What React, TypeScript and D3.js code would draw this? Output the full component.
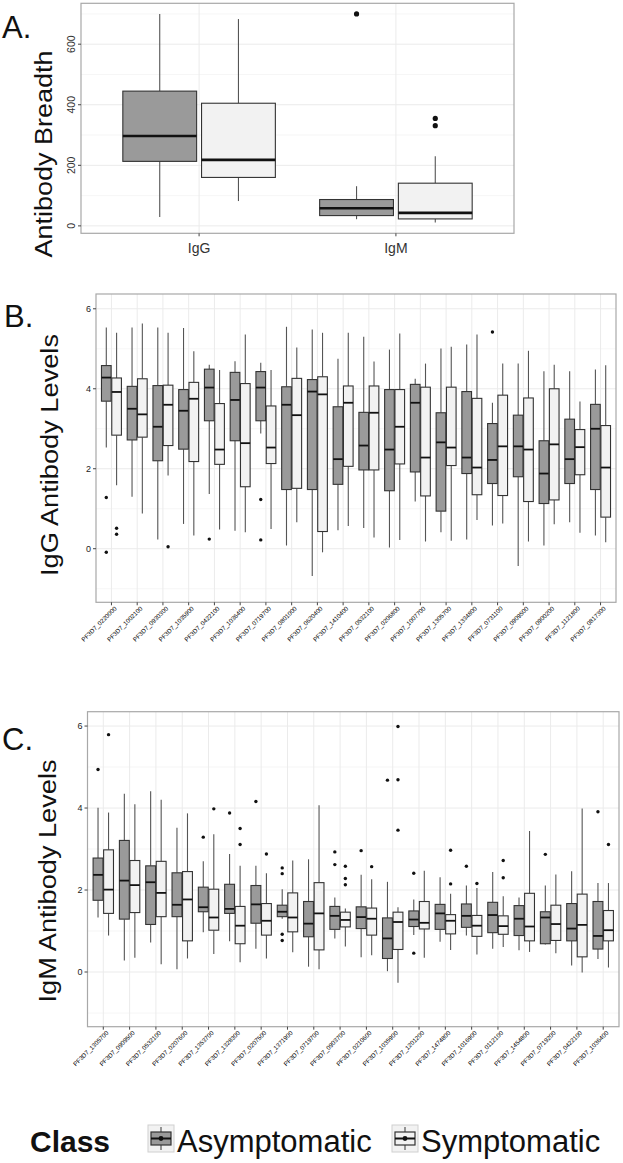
import React from "react";
import * as d3 from "d3";

const FONT = "'Liberation Sans', Arial, Helvetica, sans-serif";
const ASYM_FILL = "#9a9a9a";
const SYM_FILL = "#f2f2f2";

// ---------- Panel A: antibody breadth ----------
const breadthCategories = ["IgG", "IgM"];
// [lower whisker, Q1, median, Q3, upper whisker]
const breadthAsym = [
  [29, 213, 297, 445, 700],
  [22, 34, 58, 87, 131],
];
const breadthSym = [
  [82, 160, 218, 405, 683],
  [11, 23, 43, 141, 230],
];
const breadthAsymOut = [[], [700]];
const breadthSymOut = [[], [331, 355]];
const breadthTicks = [0, 200, 400, 600];
const breadthMinor = [100, 300, 500, 700];

// ---------- Panel B: IgG antibody levels ----------
const iggGenes = [
  "PF3D7_0220000", "PF3D7_1002100", "PF3D7_0930300", "PF3D7_1035900", "PF3D7_0422100",
  "PF3D7_1036400", "PF3D7_0719700", "PF3D7_0801000", "PF3D7_0620400", "PF3D7_1410400",
  "PF3D7_0532100", "PF3D7_0206800", "PF3D7_1007700", "PF3D7_1305700", "PF3D7_1334800",
  "PF3D7_0731100", "PF3D7_0909500", "PF3D7_0900200", "PF3D7_1121800", "PF3D7_0817300",
];
const iggAsym = [
  [2.53, 3.69, 4.28, 4.58, 5.53],
  [1.30, 2.72, 3.50, 4.06, 5.53],
  [0.23, 2.20, 3.05, 4.08, 5.53],
  [0.62, 2.49, 3.45, 3.98, 5.52],
  [1.37, 3.20, 4.03, 4.49, 4.60],
  [0.45, 2.70, 3.72, 4.41, 4.69],
  [2.88, 3.20, 4.03, 4.43, 4.65],
  [0.08, 1.48, 3.60, 4.05, 5.55],
  [-0.68, 1.48, 3.93, 4.23, 5.48],
  [0.46, 1.61, 2.24, 3.55, 4.75],
  [0.52, 1.97, 2.58, 3.41, 5.30],
  [0.03, 1.45, 2.48, 3.98, 4.98],
  [1.18, 1.92, 3.65, 4.11, 4.25],
  [0.41, 0.94, 2.66, 3.40, 5.01],
  [0.23, 1.88, 2.28, 3.93, 5.11],
  [0.58, 1.63, 2.22, 3.13, 3.65],
  [-0.43, 1.80, 2.56, 3.34, 4.63],
  [0.08, 1.13, 1.88, 2.70, 4.44],
  [0.66, 1.63, 2.24, 3.24, 4.44],
  [0.33, 1.48, 3.00, 3.61, 4.48],
];
const iggSym = [
  [1.59, 2.84, 3.92, 4.27, 5.40],
  [0.88, 2.79, 3.36, 4.25, 5.63],
  [1.83, 2.58, 3.60, 4.09, 5.40],
  [0.33, 2.18, 3.75, 4.16, 4.94],
  [0.48, 2.11, 2.48, 3.63, 4.47],
  [0.41, 1.55, 2.64, 4.13, 5.36],
  [0.49, 2.13, 2.53, 3.57, 4.47],
  [0.66, 1.51, 3.34, 4.26, 5.03],
  [-0.09, 0.43, 3.86, 4.30, 5.40],
  [0.57, 2.06, 3.65, 4.07, 5.40],
  [0.28, 1.97, 3.40, 4.07, 4.68],
  [0.22, 2.12, 3.05, 3.98, 5.38],
  [0.18, 1.32, 2.28, 4.04, 4.63],
  [0.20, 2.08, 2.53, 4.04, 5.05],
  [0.72, 1.35, 2.03, 3.76, 5.36],
  [0.63, 1.33, 2.56, 3.84, 4.63],
  [0.18, 1.18, 2.48, 3.77, 4.95],
  [0.61, 1.22, 2.61, 4.00, 4.60],
  [0.40, 1.85, 2.54, 2.98, 3.68],
  [0.16, 0.79, 2.03, 3.08, 4.59],
];
const iggAsymOut = [
  [1.28, -0.09], [], [], [], [0.24], [], [1.23, 0.22], [], [], [],
  [], [], [], [], [], [5.42], [], [], [], [],
];
const iggSymOut = [
  [0.51, 0.36], [], [0.05], [], [], [], [], [], [], [],
  [], [], [], [], [], [], [], [], [], [],
];

// ---------- Panel C: IgM antibody levels ----------
const igmGenes = [
  "PF3D7_1305700", "PF3D7_0909500", "PF3D7_0532100", "PF3D7_0207600", "PF3D7_1353700",
  "PF3D7_1328300", "PF3D7_0207500", "PF3D7_1371900", "PF3D7_0719700", "PF3D7_0903700",
  "PF3D7_0210600", "PF3D7_1035900", "PF3D7_1201200", "PF3D7_1474800", "PF3D7_1016900",
  "PF3D7_0112100", "PF3D7_1454800", "PF3D7_0719200", "PF3D7_0422100", "PF3D7_1036400",
];
const igmAsym = [
  [1.33, 1.75, 2.37, 2.78, 4.01],
  [0.28, 1.29, 2.23, 3.21, 4.35],
  [0.72, 1.16, 2.19, 2.59, 4.41],
  [0.07, 1.35, 1.64, 2.42, 3.52],
  [0.97, 1.47, 1.58, 2.07, 2.70],
  [0.75, 1.43, 1.54, 2.14, 2.88],
  [0.57, 1.19, 1.65, 2.11, 2.59],
  [1.30, 1.35, 1.47, 1.63, 2.02],
  [0.13, 0.86, 1.18, 1.72, 2.75],
  [0.82, 1.04, 1.37, 1.60, 1.82],
  [0.36, 1.06, 1.34, 1.59, 2.37],
  [0.02, 0.33, 0.82, 1.32, 2.20],
  [0.90, 1.11, 1.28, 1.49, 1.77],
  [0.74, 1.04, 1.43, 1.65, 2.31],
  [0.89, 1.09, 1.37, 1.66, 2.11],
  [0.57, 0.96, 1.39, 1.70, 2.44],
  [0.53, 0.89, 1.30, 1.62, 1.82],
  [0.67, 0.69, 1.33, 1.47, 2.11],
  [0.16, 0.76, 1.06, 1.67, 2.46],
  [0.32, 0.56, 0.88, 1.72, 2.17],
];
const igmSym = [
  [0.89, 1.43, 2.01, 2.98, 3.89],
  [0.35, 1.45, 2.12, 2.72, 4.09],
  [0.19, 1.35, 1.93, 2.70, 4.20],
  [0.33, 0.76, 1.77, 2.45, 3.87],
  [0.44, 1.02, 1.33, 2.02, 3.36],
  [0.24, 0.69, 1.13, 1.60, 2.59],
  [0.33, 0.90, 1.25, 1.67, 2.41],
  [0.48, 0.98, 1.33, 1.93, 2.72],
  [0.07, 0.54, 1.43, 2.18, 4.07],
  [0.62, 1.10, 1.27, 1.46, 1.55],
  [0.41, 0.90, 1.30, 1.56, 2.26],
  [-0.26, 0.55, 1.22, 1.46, 1.58],
  [0.35, 1.05, 1.20, 1.72, 2.47],
  [0.54, 0.93, 1.25, 1.40, 1.91],
  [0.43, 0.87, 1.13, 1.38, 2.05],
  [0.61, 0.92, 1.12, 1.37, 1.85],
  [0.49, 0.76, 1.11, 1.92, 3.44],
  [0.46, 0.77, 1.17, 1.63, 2.38],
  [-0.01, 0.37, 1.15, 1.90, 3.99],
  [0.11, 0.76, 1.02, 1.50, 2.17],
];
const igmAsymOut = [
  [4.94], [], [], [], [3.29], [3.88], [4.16], [2.54, 2.40, 0.92, 0.77], [], [2.93, 2.62],
  [2.96], [4.68], [2.41, 0.46], [], [2.58], [], [], [2.87], [], [3.91],
];
const igmSymOut = [
  [5.79], [], [], [], [3.98], [3.50, 3.11], [2.88], [], [], [2.58, 2.28, 2.13],
  [2.57], [5.99, 4.69, 3.46], [], [2.97, 2.15], [2.16], [2.72, 2.30], [], [], [], [3.11],
];
const levelTicks = [0, 2, 4, 6];
const levelMinor = [-1, 1, 3, 5];

const legendLabels = ["Asymptomatic", "Symptomatic"];

type PanelProps = {
  cats: string[];
  asym: number[][];
  sym: number[][];
  asymOut: number[][];
  symOut: number[][];
  left: number;
  right: number;
  top: number;
  bottom: number;
  yDomain: [number, number];
  ticks: number[];
  minor: number[];
  medW: number;
  r: number;
  variant: "A" | "BC";
};

function Panel(p: PanelProps) {
  const x = d3.scalePoint<string>().domain(p.cats).range([p.left, p.right]).padding(0.6);
  const y = d3.scaleLinear().domain(p.yDomain).range([p.bottom, p.top]);
  const step = x.step();
  const bw = step * 0.375;
  const groups = [
    { data: p.asym, out: p.asymOut, fill: ASYM_FILL, off: -0.2 },
    { data: p.sym, out: p.symOut, fill: SYM_FILL, off: 0.2 },
  ];
  return (
    <g>
      <rect x={p.left} y={p.top} width={p.right - p.left} height={p.bottom - p.top} fill="#ffffff" />
      {p.minor.map((t) => (
        <line key={"mi" + t} x1={p.left} x2={p.right} y1={y(t)} y2={y(t)} stroke="#f4f4f4" strokeWidth={0.8} />
      ))}
      {p.ticks.map((t) => (
        <line key={"ma" + t} x1={p.left} x2={p.right} y1={y(t)} y2={y(t)} stroke="#ebebeb" strokeWidth={1} />
      ))}
      {p.cats.map((c) => (
        <line key={"vx" + c} x1={x(c)} x2={x(c)} y1={p.top} y2={p.bottom} stroke="#ebebeb" strokeWidth={1} />
      ))}
      {p.cats.map((c, i) =>
        groups.map((g, j) => {
          const cx = (x(c) as number) + g.off * step;
          const [lo, q1, md, q3, hi] = g.data[i];
          return (
            <g key={c + j}>
              <line x1={cx} x2={cx} y1={y(hi)} y2={y(q3)} stroke="#555" strokeWidth={1.1} />
              <line x1={cx} x2={cx} y1={y(q1)} y2={y(lo)} stroke="#555" strokeWidth={1.1} />
              <rect x={cx - bw / 2} y={y(q3)} width={bw} height={y(q1) - y(q3)} fill={g.fill} stroke="#333" strokeWidth={1.1} />
              <line x1={cx - bw / 2} x2={cx + bw / 2} y1={y(md)} y2={y(md)} stroke="#111" strokeWidth={p.medW} />
              {g.out[i].map((v, k) => (
                <circle key={k} cx={cx} cy={y(v)} r={p.r} fill="#111" />
              ))}
            </g>
          );
        })
      )}
      <rect x={p.left} y={p.top} width={p.right - p.left} height={p.bottom - p.top} fill="none" stroke="#a8a8a8" strokeWidth={1.2} />
      {p.ticks.map((t) => (
        <g key={"yt" + t}>
          <line x1={p.left - 3} x2={p.left} y1={y(t)} y2={y(t)} stroke="#444" strokeWidth={1} />
          {p.variant === "A" ? (
            <text
              transform={`translate(${p.left - 6},${y(t)}) rotate(-90)`}
              textAnchor="middle"
              fontSize={10.5}
              fill="#333"
              fontFamily={FONT}
            >
              {t}
            </text>
          ) : (
            <text x={p.left - 5} y={y(t)} dy="0.35em" textAnchor="end" fontSize={9} fill="#222" fontFamily={FONT}>
              {t}
            </text>
          )}
        </g>
      ))}
      {p.cats.map((c) => (
        <g key={"xt" + c}>
          <line x1={x(c)} x2={x(c)} y1={p.bottom} y2={p.bottom + 3} stroke="#444" strokeWidth={1} />
          {p.variant === "A" ? (
            <text x={x(c)} y={p.bottom + 20} textAnchor="middle" fontSize={14} fill="#333" fontFamily={FONT}>
              {c}
            </text>
          ) : (
            <text
              transform={`translate(${(x(c) as number) + 3},${p.bottom + 4}) rotate(-45)`}
              textAnchor="end"
              dy="0.6em"
              fontSize={6.2}
              fill="#000"
              fontFamily={FONT}
            >
              {c}
            </text>
          )}
        </g>
      ))}
    </g>
  );
}

function LegendKey({ x, y, fill }: { x: number; y: number; fill: string }) {
  const w = 26;
  const h = 27;
  const cx = x + w / 2;
  return (
    <g>
      <rect x={x} y={y} width={w} height={h} fill="#f2f2f2" stroke="#d0d0d0" strokeWidth={1} />
      <line x1={cx} x2={cx} y1={y + 2} y2={y + h - 2} stroke="#555" strokeWidth={1.2} />
      <rect x={x + 3} y={y + 7} width={w - 6} height={h - 14} fill={fill} stroke="#333" strokeWidth={1.2} />
      <line x1={x + 3} x2={x + w - 3} y1={y + h / 2} y2={y + h / 2} stroke="#111" strokeWidth={2} />
      <circle cx={cx} cy={y + h / 2} r={2.4} fill="#111" />
    </g>
  );
}

export default function App() {
  return (
    <svg
      width={623}
      height={1163}
      viewBox="0 0 623 1163"
      style={{ position: "absolute", left: 0, top: 0, background: "#fff" }}
      fontFamily={FONT}
    >
      <rect x={0} y={0} width={623} height={1163} fill="#fff" />

      {/* Panel A */}
      <text x={2} y={38} fontSize={31} fill="#111">A.</text>
      <text
        transform="translate(52,154) rotate(-90)"
        textAnchor="middle"
        fontSize={23}
        textLength={207}
        lengthAdjust="spacingAndGlyphs"
        fill="#111"
      >
        Antibody Breadth
      </text>
      <Panel
        cats={breadthCategories}
        asym={breadthAsym}
        sym={breadthSym}
        asymOut={breadthAsymOut}
        symOut={breadthSymOut}
        left={81}
        right={514}
        top={3.3}
        bottom={233.3}
        yDomain={[-24.5, 735]}
        ticks={breadthTicks}
        minor={breadthMinor}
        medW={2.6}
        r={2.6}
        variant="A"
      />

      {/* Panel B */}
      <text x={4} y={327} fontSize={31} fill="#111">B.</text>
      <text
        transform="translate(58,455) rotate(-90)"
        textAnchor="middle"
        fontSize={23}
        textLength={242}
        lengthAdjust="spacingAndGlyphs"
        fill="#111"
      >
        IgG Antibody Levels
      </text>
      <Panel
        cats={iggGenes}
        asym={iggAsym}
        sym={iggSym}
        asymOut={iggAsymOut}
        symOut={iggSymOut}
        left={96}
        right={616}
        top={294}
        bottom={602.3}
        yDomain={[-1.34, 6.37]}
        ticks={levelTicks}
        minor={levelMinor}
        medW={1.8}
        r={1.7}
        variant="BC"
      />

      {/* Panel C */}
      <text x={2} y={750} fontSize={31} fill="#111">C.</text>
      <text
        transform="translate(56,881) rotate(-90)"
        textAnchor="middle"
        fontSize={23}
        textLength={243}
        lengthAdjust="spacingAndGlyphs"
        fill="#111"
      >
        IgM Antibody Levels
      </text>
      <Panel
        cats={igmGenes}
        asym={igmAsym}
        sym={igmSym}
        asymOut={igmAsymOut}
        symOut={igmSymOut}
        left={87.5}
        right={619}
        top={711.7}
        bottom={1026.7}
        yDomain={[-1.334, 6.35]}
        ticks={levelTicks}
        minor={levelMinor}
        medW={1.8}
        r={1.7}
        variant="BC"
      />

      {/* Legend */}
      <text x={30} y={1152} fontSize={30} fontWeight="bold" fill="#111">Class</text>
      <LegendKey x={148} y={1125} fill={ASYM_FILL} />
      <text x={177} y={1152} fontSize={31} fill="#111">{legendLabels[0]}</text>
      <LegendKey x={392} y={1125} fill={SYM_FILL} />
      <text x={421} y={1152} fontSize={31} fill="#111">{legendLabels[1]}</text>
    </svg>
  );
}
